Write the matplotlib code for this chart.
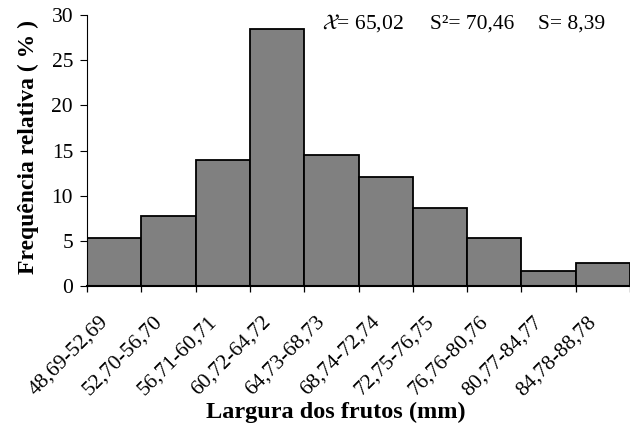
import numpy as np
import matplotlib
matplotlib.use("Agg")
import matplotlib.pyplot as plt
from matplotlib.transforms import ScaledTranslation

plt.rcParams['font.family'] = ['Liberation Serif', 'DejaVu Serif']
plt.rcParams['mathtext.fontset'] = 'stix'

# width classes (mm) and relative frequency (%)
classes = ["48,69-52,69", "52,70-56,70", "56,71-60,71", "60,72-64,72",
           "64,73-68,73", "68,74-72,74", "72,75-76,75", "76,76-80,76",
           "80,77-84,77", "84,78-88,78"]
freq = [5.3, 7.7, 13.9, 28.5, 14.5, 12.1, 8.6, 5.3, 1.7, 2.6]
yticks = [0, 5, 10, 15, 20, 25, 30]

fig = plt.figure(figsize=(6.3, 4.25), dpi=100)
ax = fig.add_axes([87 / 630, 1 - 286 / 425, 543 / 630, 271 / 425])

x = np.arange(len(classes))
ax.bar(x + 0.5, freq, width=1.0, color='#808080', edgecolor='black',
       linewidth=1.3, zorder=2)

ax.set_xlim(0, len(classes))
ax.set_ylim(0, 30)

# tick marks on the class edges, labels in the middle of each class
ax.set_xticks(np.arange(len(classes) + 1), minor=True)
ax.set_xticks(x + 0.5)
ax.set_xticklabels(classes, rotation=45, ha='right', va='center',
                   rotation_mode='anchor', fontsize=15.5)
ax.tick_params(axis='x', which='major', length=0, pad=24)
ax.tick_params(axis='x', which='minor', length=4.5, width=0.9, direction='out')
shift = ScaledTranslation(-9 / 100, 0, fig.dpi_scale_trans)
for lab in ax.get_xticklabels():
    lab.set_transform(lab.get_transform() + shift)

ax.set_yticks(yticks)
ax.set_yticklabels([str(v) for v in yticks], fontsize=15.5)
ax.tick_params(axis='y', length=5, width=0.8, direction='out', pad=5)

for side in ['top', 'right']:
    ax.spines[side].set_visible(False)
ax.spines['left'].set_linewidth(0.8)
ax.spines['bottom'].set_linewidth(1.5)
ax.spines['bottom'].set_zorder(3)

fig.text(28 / 630, 1 - 146.5 / 425, "Frequência relativa ( % )", rotation=90,
         ha='center', va='center', fontsize=17, fontweight='bold')
fig.text(336 / 630, 1 - 418 / 425, "Largura dos frutos (mm)",
         ha='center', va='baseline', fontsize=17.5, fontweight='bold')

# summary statistics
fig.text(322 / 630, 1 - 29 / 425, r"$\mathcal{X}$= 65,02", ha='left',
         va='baseline', fontsize=15.5)
fig.text(430 / 630, 1 - 29 / 425, "S²= 70,46", ha='left',
         va='baseline', fontsize=15.5)
fig.text(538 / 630, 1 - 29 / 425, "S= 8,39", ha='left',
         va='baseline', fontsize=15.5)

fig.savefig("out.png", dpi=100)
